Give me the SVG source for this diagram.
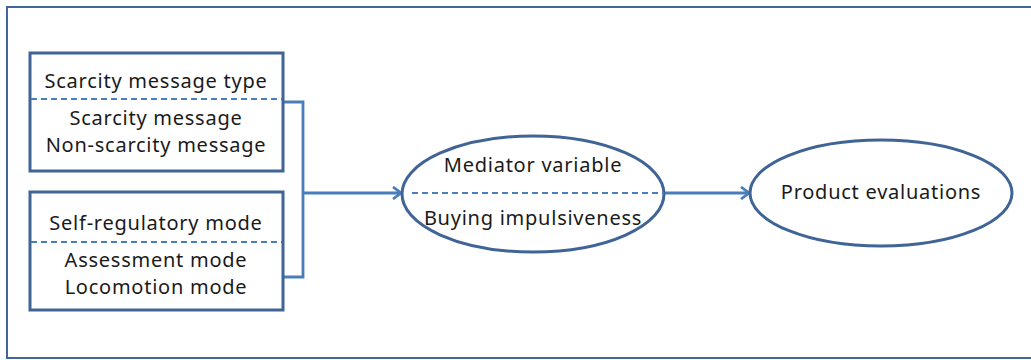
<svg xmlns="http://www.w3.org/2000/svg" width="1031" height="360" viewBox="0 0 1031 360">
<style>
.frame{fill:none;stroke:#41679A;stroke-width:2}
.box{fill:#fff;stroke:#3F6495;stroke-width:3}
.ell{fill:#fff;stroke:#3F6495;stroke-width:3}
.dash{stroke:#4A7EBB;stroke-width:2.2;stroke-dasharray:6,4;fill:none}
.conn{fill:none;stroke:#4A7EBB;stroke-width:2.8}
text{font-family:"Noto Sans","Open Sans",sans-serif;font-size:20px;letter-spacing:0.75px;fill:#1a1a1a;text-anchor:middle}
</style>
<defs>
<marker id="arr" markerWidth="14" markerHeight="14" refX="11" refY="7" orient="auto" markerUnits="userSpaceOnUse">
<polyline points="3,1 11,7 3,13" fill="none" stroke="#4A7EBB" stroke-width="2.8"/>
</marker>
</defs>
<rect class="frame" x="7" y="7" width="1030" height="351"/>
<g id="connectors">
<polyline class="conn" points="283,102 303,102 303,277 283,277"/>
<line class="conn" x1="303" y1="193" x2="401" y2="193" marker-end="url(#arr)"/>
<line class="conn" x1="664" y1="193" x2="749" y2="193" marker-end="url(#arr)"/>
</g>
<g id="scarcity">
<rect class="box" x="30" y="53" width="253" height="118"/>
<line class="dash" x1="31" y1="99" x2="282" y2="99"/>
<text x="156" y="88">Scarcity message type</text>
<text x="156" y="125">Scarcity message</text>
<text x="156" y="152">Non-scarcity message</text>
</g>
<g id="selfreg">
<rect class="box" x="30" y="192" width="253" height="118"/>
<line class="dash" x1="31" y1="242" x2="282" y2="242"/>
<text x="156" y="230">Self-regulatory mode</text>
<text x="156" y="267">Assessment mode</text>
<text x="156" y="294">Locomotion mode</text>
</g>
<g id="mediator">
<ellipse class="ell" cx="533" cy="194" rx="131" ry="58"/>
<line class="dash" x1="412" y1="193" x2="664" y2="193"/>
<text x="533" y="172">Mediator variable</text>
<text x="533" y="225">Buying impulsiveness</text>
</g>
<g id="product">
<ellipse class="ell" cx="881" cy="193" rx="131" ry="53"/>
<text x="881" y="199">Product evaluations</text>
</g>
</svg>
